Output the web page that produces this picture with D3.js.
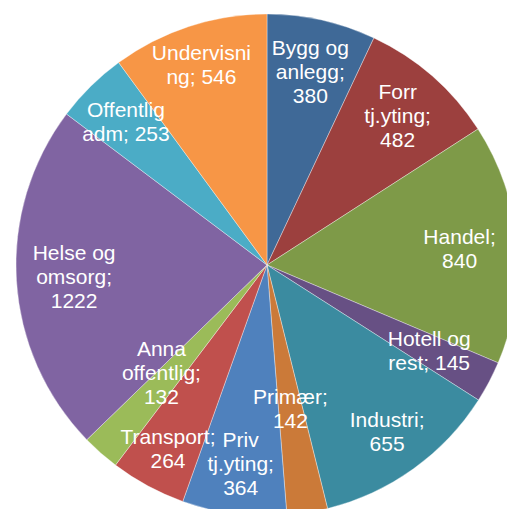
<!DOCTYPE html>
<meta charset="utf-8">
<html>
<head>
<style>
  body { margin: 0; background: #fff; }
  svg text { font-family: "Liberation Sans", Arial, sans-serif; fill: #fff; }
</style>
</head>
<body>
<script src="https://d3js.org/d3.v7.min.js"></script>
<script>
// data
var labels = [
  ["Bygg og", "anlegg;", "380"],
  ["Forr", "tj.yting;", "482"],
  ["Handel;", "840"],
  ["Hotell og", "rest; 145"],
  ["Industri;", "655"],
  ["Primær;", "142"],
  ["Priv", "tj.yting;", "364"],
  ["Transport;", "264"],
  ["Anna", "offentlig;", "132"],
  ["Helse og", "omsorg;", "1222"],
  ["Offentlig", "adm; 253"],
  ["Undervisni", "ng; 546"]
];
var values = [380, 482, 840, 145, 655, 142, 364, 264, 132, 1222, 253, 546];
var colors = ["#3f6997", "#9c403e", "#7e9a48", "#675084", "#3b8ba0", "#cb7a39",
              "#4f81bd", "#c0504d", "#9bbb59", "#8064a2", "#4bacc6", "#f79646"];

// layout
var width = 507, height = 509;
var cx = 267, cy = 265, radius = 251;
// label distance as fraction of radius, per slice
var labelPos = [0.79, 0.79, 0.77, 0.73, 0.82, 0.58, 0.8, 0.83, 0.6, 0.77, 0.8, 0.84];
var labelShift = [0, 0, 0, 0, 0, 0, 0, 0, 3, 0, 0, 0]; // extra angle (deg)

var svg = d3.select("body").append("svg")
    .attr("width", width)
    .attr("height", height);

var g = svg.append("g")
    .attr("transform", "translate(" + cx + "," + cy + ")");

var pie = d3.pie().sort(null).value(function(d) { return d; });
var arcs = pie(values);

var arc = d3.arc().innerRadius(0).outerRadius(radius);

g.selectAll("path")
    .data(arcs)
    .enter()
    .append("path")
    .attr("d", arc)
    .attr("fill", function(d, i) { return colors[i]; })
    .attr("stroke", "rgba(255,255,255,0.6)")
    .attr("stroke-width", 0.6);

var lineH = 24;
var lbl = g.selectAll("text.lbl")
    .data(arcs)
    .enter()
    .append("text")
    .attr("class", "lbl")
    .attr("text-anchor", "middle")
    .style("font-size", "21px")
    .attr("transform", function(d, i) {
      var a = (d.startAngle + d.endAngle) / 2 + labelShift[i] * Math.PI / 180;
      var r = radius * labelPos[i];
      return "translate(" + (Math.sin(a) * r) + "," + (-Math.cos(a) * r) + ")";
    });

lbl.each(function(d, i) {
  var lines = labels[i];
  var t = d3.select(this);
  lines.forEach(function(s, k) {
    t.append("tspan")
      .attr("x", 0)
      .attr("y", (k - (lines.length - 1) / 2) * lineH)
      .attr("dy", "0.35em")
      .text(s);
  });
});
</script>
</body>
</html>
